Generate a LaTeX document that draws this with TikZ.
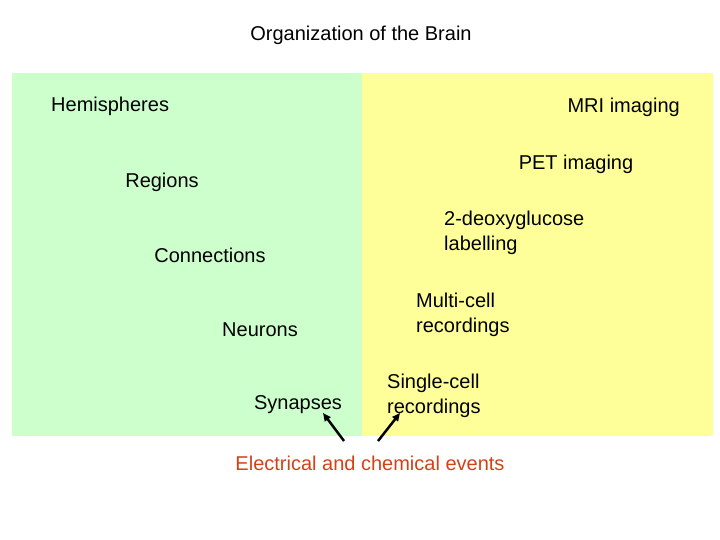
\documentclass[tikz,border=0pt]{standalone}
\usepackage{fontspec}
\setmainfont{Liberation Sans}
\usetikzlibrary{arrows.meta}
\definecolor{lgreen}{RGB}{204,255,204}
\definecolor{lyellow}{RGB}{255,255,153}
\definecolor{evred}{RGB}{214,64,22}
\begin{document}
\begin{tikzpicture}[x=1pt,y=-1pt,
  lbl/.style={inner sep=0pt,font=\fontsize{20}{25}\selectfont,align=left},
  arr/.style={line width=2.5pt,-{Triangle[length=8pt,width=7pt]}}]
\useasboundingbox (0,0) rectangle (720,540);
\fill[lgreen] (12,73) rectangle (362,436);
\fill[lyellow] (362,73) rectangle (713,436);
\node[lbl] (title) at (361,35) {Organization of the Brain};
\node[lbl,anchor=west] (hemi) at (51,106) {Hemispheres};
\node[lbl,anchor=east] (mri) at (680,107) {MRI imaging};
\node[lbl] (pet) at (576,164) {PET imaging};
\node[lbl] (regions) at (162,182) {Regions};
\node[lbl,anchor=west] (deoxy) at (444,233) {2-deoxyglucose\\labelling};
\node[lbl] (conn) at (210,255) {Connections};
\node[lbl,anchor=west] (multi) at (416,315) {Multi-cell\\recordings};
\node[lbl] (neur) at (260,330) {Neurons};
\node[lbl,anchor=west] (single) at (387,396) {Single-cell\\recordings};
\node[lbl] (syn) at (298,405) {Synapses};
\node[lbl,text=evred] (events) at (370,463) {Electrical and chemical events};
\coordinate (a1s) at (344,441);
\coordinate (a1e) at (323,413);
\coordinate (a2s) at (378,441);
\coordinate (a2e) at (400,413);
\draw[arr] (a1s) -- (a1e);
\draw[arr] (a2s) -- (a2e);
\end{tikzpicture}
\end{document}
